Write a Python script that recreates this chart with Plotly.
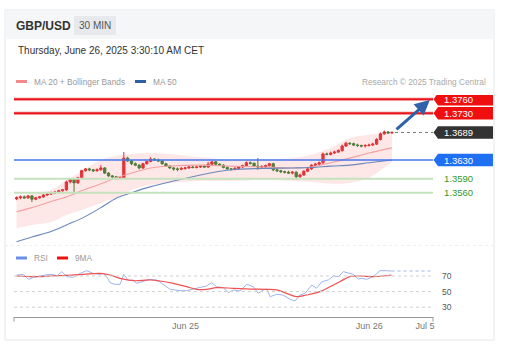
import plotly.graph_objects as go

W, H = 508, 355
FONT = "Liberation Sans, Arial, sans-serif"

# ---------------- data ----------------
candle_idx = list(range(99))
opens = [1.3547, 1.3549, 1.3551, 1.3549, 1.3553, 1.3546, 1.3549, 1.3551, 1.3555, 1.3557,
         1.3559, 1.3561, 1.3564, 1.3566, 1.3583, 1.3589, 1.3581, 1.3592, 1.3607, 1.3611,
         1.3609, 1.3607, 1.3609, 1.3613, 1.3602, 1.3596, 1.3594, 1.3591, 1.3592, 1.3634,
         1.3628, 1.3622, 1.3619, 1.3613, 1.3622, 1.3627, 1.3632, 1.3630, 1.3628, 1.3622,
         1.3617, 1.3613, 1.3611, 1.3610, 1.3612, 1.3613, 1.3615, 1.3614, 1.3615, 1.3617,
         1.3615, 1.3621, 1.3626, 1.3621, 1.3619, 1.3614, 1.3611, 1.3610, 1.3612, 1.3615,
         1.3618, 1.3624, 1.3623, 1.3617, 1.3615, 1.3616, 1.3618, 1.3622, 1.3609, 1.3607,
         1.3605, 1.3604, 1.3602, 1.3604, 1.3594, 1.3598, 1.3606, 1.3611, 1.3619, 1.3621,
         1.3624, 1.3643, 1.3642, 1.3645, 1.3647, 1.3650, 1.3660, 1.3666, 1.3665, 1.3662,
         1.3661, 1.3660, 1.3661, 1.3662, 1.3664, 1.3674, 1.3686, 1.3690, 1.3688]
highs = [1.3552, 1.3554, 1.3554, 1.3555, 1.3555, 1.3551, 1.3553, 1.3557, 1.3560, 1.3562,
         1.3564, 1.3566, 1.3568, 1.3586, 1.3591, 1.3590, 1.3594, 1.3609, 1.3613, 1.3613,
         1.3611, 1.3612, 1.3619, 1.3615, 1.3604, 1.3598, 1.3596, 1.3595, 1.3647, 1.3637,
         1.3630, 1.3625, 1.3621, 1.3624, 1.3629, 1.3636, 1.3634, 1.3633, 1.3630, 1.3624,
         1.3619, 1.3615, 1.3614, 1.3615, 1.3615, 1.3617, 1.3618, 1.3617, 1.3619, 1.3620,
         1.3626, 1.3628, 1.3628, 1.3623, 1.3621, 1.3616, 1.3613, 1.3615, 1.3617, 1.3620,
         1.3627, 1.3627, 1.3625, 1.3634, 1.3619, 1.3620, 1.3624, 1.3624, 1.3611, 1.3609,
         1.3607, 1.3607, 1.3606, 1.3606, 1.3601, 1.3608, 1.3613, 1.3621, 1.3624, 1.3627,
         1.3646, 1.3646, 1.3648, 1.3650, 1.3653, 1.3663, 1.3669, 1.3668, 1.3667, 1.3665,
         1.3663, 1.3664, 1.3665, 1.3667, 1.3677, 1.3689, 1.3693, 1.3692, 1.3691]
lows = [1.3544, 1.3546, 1.3547, 1.3547, 1.3540, 1.3544, 1.3547, 1.3549, 1.3553, 1.3555,
        1.3557, 1.3559, 1.3562, 1.3564, 1.3580, 1.3559, 1.3579, 1.3590, 1.3605, 1.3606,
        1.3604, 1.3605, 1.3607, 1.3600, 1.3594, 1.3591, 1.3589, 1.3589, 1.3590, 1.3626,
        1.3619, 1.3617, 1.3610, 1.3611, 1.3620, 1.3625, 1.3628, 1.3626, 1.3620, 1.3615,
        1.3611, 1.3607, 1.3606, 1.3608, 1.3609, 1.3611, 1.3612, 1.3612, 1.3613, 1.3613,
        1.3613, 1.3619, 1.3619, 1.3617, 1.3612, 1.3609, 1.3607, 1.3608, 1.3610, 1.3613,
        1.3616, 1.3620, 1.3615, 1.3609, 1.3612, 1.3613, 1.3616, 1.3606, 1.3604, 1.3602,
        1.3601, 1.3600, 1.3599, 1.3588, 1.3592, 1.3596, 1.3604, 1.3609, 1.3617, 1.3619,
        1.3622, 1.3640, 1.3640, 1.3643, 1.3645, 1.3648, 1.3658, 1.3662, 1.3660, 1.3658,
        1.3657, 1.3657, 1.3659, 1.3660, 1.3662, 1.3672, 1.3684, 1.3686, 1.3686]
closes = [1.3549, 1.3551, 1.3549, 1.3553, 1.3546, 1.3549, 1.3551, 1.3555, 1.3557, 1.3559,
          1.3561, 1.3564, 1.3566, 1.3583, 1.3589, 1.3581, 1.3592, 1.3607, 1.3611, 1.3609,
          1.3607, 1.3609, 1.3613, 1.3602, 1.3596, 1.3594, 1.3591, 1.3592, 1.3634, 1.3628,
          1.3622, 1.3619, 1.3613, 1.3622, 1.3627, 1.3632, 1.3630, 1.3628, 1.3622, 1.3617,
          1.3613, 1.3611, 1.3610, 1.3612, 1.3613, 1.3615, 1.3614, 1.3615, 1.3617, 1.3615,
          1.3621, 1.3626, 1.3621, 1.3619, 1.3614, 1.3611, 1.3610, 1.3612, 1.3615, 1.3618,
          1.3624, 1.3623, 1.3617, 1.3615, 1.3616, 1.3618, 1.3622, 1.3609, 1.3607, 1.3605,
          1.3604, 1.3602, 1.3604, 1.3594, 1.3598, 1.3606, 1.3611, 1.3619, 1.3621, 1.3624,
          1.3643, 1.3642, 1.3645, 1.3647, 1.3650, 1.3660, 1.3666, 1.3665, 1.3662, 1.3661,
          1.3660, 1.3661, 1.3662, 1.3664, 1.3674, 1.3686, 1.3690, 1.3688, 1.3689]

band_idx = [0, 4, 9, 13, 17, 22, 26, 30, 35, 40, 48, 56, 64, 72, 77, 82, 87, 92, 98]
ma20 = [1.3519, 1.3528, 1.3541, 1.3551, 1.3564, 1.3579, 1.3592, 1.3602, 1.3613, 1.3617,
        1.3619, 1.3617, 1.3615, 1.3613, 1.3615, 1.3624, 1.3634, 1.3645, 1.3656]
bb_upper = [1.3553, 1.3557, 1.3566, 1.3587, 1.3606, 1.3630, 1.3639, 1.3643, 1.3645, 1.3643,
            1.3636, 1.3630, 1.3632, 1.3634, 1.3641, 1.3656, 1.3677, 1.3684, 1.3690]
bb_lower = [1.3484, 1.3491, 1.3497, 1.3512, 1.3523, 1.3538, 1.3549, 1.3566, 1.3577, 1.3581,
            1.3585, 1.3585, 1.3587, 1.3585, 1.3583, 1.3579, 1.3581, 1.3592, 1.3626]
ma50 = [1.3455, 1.3465, 1.3477, 1.3491, 1.3505, 1.3528, 1.3548, 1.3560, 1.3573, 1.3583,
        1.3598, 1.3609, 1.3612, 1.3613, 1.3614, 1.3617, 1.3619, 1.3624, 1.3630]

rsi_idx = [0, 1.8, 3.1, 4.4, 6.1, 7.9, 9.6, 10.5, 11.8, 13.1, 14.8, 16.6, 18.3, 20.0, 21.8,
           22.6, 23.5, 24.4, 25.7, 27.0, 28.0, 29.2, 30.5, 31.3, 32.7, 34.8, 36.6, 38.3,
           40.1, 42.7, 44.4, 46.1, 47.9, 49.6, 50.9, 52.2, 54.0, 55.3, 56.6, 58.3, 60.1,
           61.8, 63.1, 64.4, 65.3, 66.2, 67.9, 69.6, 71.4, 72.7, 74.0, 75.3, 77.1, 78.3,
           79.7, 81.4, 82.7, 84.0, 85.3, 86.6, 87.9, 89.2, 90.1, 91.4, 92.7, 93.6, 94.9,
           96.6, 97.9]
rsi = [71.3, 72.1, 65.7, 68.3, 70.0, 71.7, 72.1, 70.0, 75.6, 69.1, 68.3, 73.4, 76.8, 73.4,
       72.1, 73.4, 69.1, 61.5, 59.3, 59.3, 72.1, 64.0, 64.9, 60.6, 62.7, 65.7, 64.9, 58.5,
       52.9, 51.2, 51.2, 53.3, 55.5, 57.2, 61.5, 56.3, 55.0, 48.6, 52.1, 50.8, 59.3, 56.3,
       47.8, 52.1, 53.3, 43.5, 46.5, 45.6, 40.1, 38.0, 45.6, 47.8, 58.5, 54.2, 62.7, 64.9,
       70.0, 69.1, 75.6, 73.4, 72.1, 66.2, 67.0, 65.7, 68.3, 71.3, 76.8, 76.8, 76.4]
rsi_ma_idx = [0, 4.4, 8.7, 13.1, 17.4, 21.8, 24.4, 27.0, 30.5, 34.8, 37.4, 40.9, 44.4, 47.0,
              49.6, 52.2, 56.6, 60.9, 65.3, 67.9, 70.5, 73.1, 75.7, 79.2, 81.8, 84.4, 87.0,
              89.7, 93.1, 97.9]
rsi_ma = [70.0, 69.1, 70.0, 70.9, 72.1, 73.4, 71.3, 67.0, 64.0, 64.9, 63.6, 60.6, 56.3, 52.9,
          52.9, 55.0, 54.2, 53.3, 52.9, 52.1, 47.8, 43.5, 45.6, 49.9, 56.3, 62.7, 69.1,
          70.0, 69.1, 71.3]

resistances = [1.3760, 1.3730]
last_price = 1.3689
pivot = 1.3630
supports = [1.3590, 1.3560]
rsi_levels = [70, 50, 30]
tick_vals = [44.1, 92.1, 106.6]
tick_text = ["Jun 25", "Jun 26", "Jul 5"]

# ---------------- geometry ----------------
def px(x):
    return x / W

def py(y):
    return 1 - y / H

X_RANGE = [-0.68, 108.72]
P_RANGE = [1.34480, 1.37692]
P_TOP, P_BOT = 95, 245
PPX = (P_RANGE[1] - P_RANGE[0]) / (P_BOT - P_TOP)  # price per pixel
R_RANGE = [17.44, 87.95]
R_TOP, R_BOT = 262, 317

fig = go.Figure()

# Bollinger band fill
fig.add_trace(go.Scatter(x=band_idx, y=bb_upper, mode="lines",
                         line=dict(width=0, shape="spline"), hoverinfo="skip"))
fig.add_trace(go.Scatter(x=band_idx, y=bb_lower, mode="lines", fill="tonexty",
                         fillcolor="rgba(248,120,120,0.18)",
                         line=dict(width=0, shape="spline"), hoverinfo="skip"))
fig.add_trace(go.Scatter(x=band_idx, y=ma20, mode="lines",
                         line=dict(color="#f5a0a0", width=1.1, shape="spline")))
fig.add_trace(go.Scatter(x=band_idx, y=ma50, mode="lines",
                         line=dict(color="#6a88bb", width=1.1, shape="spline")))

fig.add_trace(go.Candlestick(
    x=candle_idx, open=opens, high=highs, low=lows, close=closes,
    increasing=dict(line=dict(color="#d9262b", width=1), fillcolor="#e3262b"),
    decreasing=dict(line=dict(color="#2d7d2d", width=1), fillcolor="#2d7d2d"),
    whiskerwidth=0))

# last price dotted line
fig.add_trace(go.Scatter(x=[candle_idx[-1] + 0.8, X_RANGE[1]], y=[last_price, last_price],
                         mode="lines", line=dict(color="#777", width=1, dash="dot")))

# RSI
fig.add_trace(go.Scatter(x=rsi_idx, y=rsi, mode="lines", xaxis="x2", yaxis="y2",
                         line=dict(color="#9db5f0", width=1)))
fig.add_trace(go.Scatter(x=[rsi_idx[-1], X_RANGE[1]], y=[rsi[-1], rsi[-1]], mode="lines",
                         xaxis="x2", yaxis="y2",
                         line=dict(color="#9db5f0", width=1, dash="dot")))
fig.add_trace(go.Scatter(x=rsi_ma_idx, y=rsi_ma, mode="lines", xaxis="x2", yaxis="y2",
                         line=dict(color="#f05050", width=1.2, shape="spline")))

shapes = []
annotations = []

# card + header
shapes.append(dict(type="rect", xref="paper", yref="paper", x0=px(5), x1=px(494),
                   y0=py(340), y1=py(10), line=dict(color="#e4e6ea", width=1),
                   fillcolor="rgba(0,0,0,0)", layer="below"))
shapes.append(dict(type="rect", xref="paper", yref="paper", x0=px(5.5), x1=px(493.5),
                   y0=py(39), y1=py(10.5), line=dict(width=0),
                   fillcolor="#f5f6f8", layer="below"))
shapes.append(dict(type="rect", xref="paper", yref="paper", x0=px(74), x1=px(116),
                   y0=py(35), y1=py(16), line=dict(width=0),
                   fillcolor="#e8e9ec", layer="below"))
annotations += [
    dict(text="<b>GBP/USD</b>", x=px(14), y=py(26), xanchor="left", yanchor="middle",
         font=dict(size=12, color="#333", family=FONT)),
    dict(text="30 MIN", x=px(95), y=py(25.5), xanchor="center", yanchor="middle",
         font=dict(size=10, color="#555", family=FONT)),
    dict(text="Thursday, June 26, 2025 3:30:10 AM CET", x=px(15.5), y=py(50.5),
         xanchor="left", yanchor="middle", font=dict(size=10, color="#333", family=FONT)),
    dict(text="MA 20 + Bollinger Bands", x=px(31.5), y=py(81.5), xanchor="left",
         yanchor="middle", font=dict(size=8.3, color="#999", family=FONT)),
    dict(text="MA 50", x=px(150.5), y=py(81.5), xanchor="left", yanchor="middle",
         font=dict(size=8.3, color="#999", family=FONT)),
    dict(text="Research © 2025 Trading Central", x=px(487.5), y=py(82), xanchor="right",
         yanchor="middle", font=dict(size=8.3, color="#aaa", family=FONT)),
    dict(text="RSI", x=px(31.5), y=py(258), xanchor="left", yanchor="middle",
         font=dict(size=8.3, color="#999", family=FONT)),
    dict(text="9MA", x=px(72.5), y=py(258), xanchor="left", yanchor="middle",
         font=dict(size=8.3, color="#999", family=FONT)),
]
# legend swatches
for x0, x1, yy, col in [(16, 27, 81.5, "#f58a8a"), (135, 146, 81.5, "#2f5fa5"),
                        (16, 27, 258, "#6b8ee8"), (57, 68, 258, "#ee1111")]:
    shapes.append(dict(type="rect", xref="paper", yref="paper", x0=px(x0), x1=px(x1),
                       y0=py(yy + 1.5), y1=py(yy - 1.5), line=dict(width=0), fillcolor=col))

# separator between panels
shapes.append(dict(type="line", xref="paper", yref="paper", x0=px(5), x1=px(494),
                   y0=py(245.5), y1=py(245.5), line=dict(color="#eceef0", width=1, dash="dot")))

# level lines
XL0, XL1 = px(14), px(433)
for lv in resistances:
    shapes.append(dict(type="line", xref="paper", yref="y", x0=XL0, x1=XL1, y0=lv, y1=lv,
                       line=dict(color="#f07070", width=3)))
    shapes.append(dict(type="line", xref="paper", yref="y", x0=XL0, x1=XL1, y0=lv, y1=lv,
                       line=dict(color="#e8141c", width=1.5)))
shapes.append(dict(type="line", xref="paper", yref="y", x0=XL0, x1=XL1, y0=pivot, y1=pivot,
                   line=dict(color="#4477ee", width=1.3)))
for lv in supports:
    shapes.append(dict(type="line", xref="paper", yref="y", x0=XL0, x1=XL1, y0=lv, y1=lv,
                       line=dict(color="#c5e2be", width=2)))


def tag(level, color):
    h = 6.2 * PPX
    path = (f"M {px(433.5)},{level} L {px(438)},{level + h} L {px(493)},{level + h} "
            f"L {px(493)},{level - h} L {px(438)},{level - h} Z")
    shapes.append(dict(type="path", xref="paper", yref="y", path=path,
                       fillcolor=color, line=dict(width=0)))
    annotations.append(dict(text=f"{level:.4f}", x=px(441.5), y=level, xref="paper", yref="y",
                            xanchor="left", yanchor="middle", showarrow=False,
                            font=dict(size=9.5, color="white", family=FONT)))


for lv in resistances:
    tag(lv, "#f00f0f")
tag(last_price, "#333333")
tag(pivot, "#1f6ff2")
for lv in supports:
    annotations.append(dict(text=f"{lv:.4f}", x=px(441.5), y=lv, xref="paper", yref="y",
                            xanchor="left", yanchor="middle", showarrow=False,
                            font=dict(size=9.5, color="#2e9a2e", family=FONT)))

# arrow
annotations.append(dict(x=107.9, y=1.37585, ax=98.8, ay=1.36925, xref="x", yref="y",
                        axref="x", ayref="y", text="", showarrow=True, arrowhead=2,
                        arrowsize=1, arrowwidth=3, arrowcolor="#2f62a8"))

# RSI grid + labels
for lv in rsi_levels:
    shapes.append(dict(type="line", xref="paper", yref="y2", x0=XL0, x1=XL1, y0=lv, y1=lv,
                       line=dict(color="#cfcfcf", width=1, dash="dot")))
    annotations.append(dict(text=str(lv), x=px(446.5), y=lv, xref="paper", yref="y2",
                            xanchor="center", yanchor="middle", showarrow=False,
                            font=dict(size=8.5, color="#555", family=FONT)))

# axis end ticks
for xe in (14, 433):
    shapes.append(dict(type="line", xref="paper", yref="paper", x0=px(xe), x1=px(xe),
                       y0=py(317), y1=py(321.5), line=dict(color="#999", width=1)))

for a in annotations:
    a.setdefault("xref", "paper")
    a.setdefault("yref", "paper")
    a.setdefault("showarrow", False)

fig.update_layout(
    width=W, height=H,
    margin=dict(l=0, r=0, t=0, b=0),
    paper_bgcolor="white", plot_bgcolor="rgba(0,0,0,0)",
    showlegend=False,
    boxgap=0.15,
    font=dict(family=FONT),
    xaxis=dict(domain=[px(14), px(433)], range=X_RANGE, visible=False,
               rangeslider=dict(visible=False), fixedrange=True),
    yaxis=dict(domain=[py(P_BOT), py(P_TOP)], range=P_RANGE, visible=False,
               fixedrange=True),
    xaxis2=dict(domain=[px(14), px(433)], range=X_RANGE, anchor="y2",
                showline=True, linecolor="#999", linewidth=1, showgrid=False,
                zeroline=False, ticks="", tickvals=tick_vals, ticktext=tick_text,
                tickfont=dict(size=9, color="#777", family=FONT), fixedrange=True),
    yaxis2=dict(domain=[py(R_BOT), py(R_TOP)], range=R_RANGE, visible=False,
                anchor="x2", fixedrange=True),
    shapes=shapes,
    annotations=annotations,
)

fig.write_html("out.html", config={"displayModeBar": False},
               post_script="document.body.style.margin='0';")
